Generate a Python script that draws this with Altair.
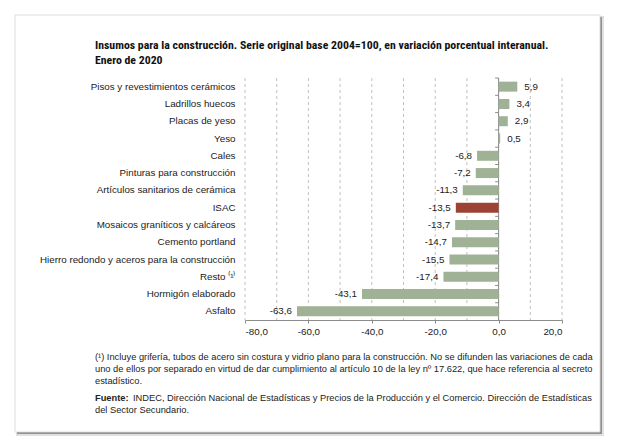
import altair as alt
import pandas as pd

categories = [
    "Pisos y revestimientos cerámicos",
    "Ladrillos huecos",
    "Placas de yeso",
    "Yeso",
    "Cales",
    "Pinturas para construcción",
    "Artículos sanitarios de cerámica",
    "ISAC",
    "Mosaicos graníticos y calcáreos",
    "Cemento portland",
    "Hierro redondo y aceros para la construcción",
    "Resto ⁽¹⁾",
    "Hormigón elaborado",
    "Asfalto",
]
values = [5.9, 3.4, 2.9, 0.5, -6.8, -7.2, -11.3, -13.5, -13.7, -14.7, -15.5, -17.4, -43.1, -63.6]
highlight = "ISAC"
x_ticks = [-80, -70, -60, -50, -40, -30, -20, -10, 0, 10, 20]

title_lines = [
    "Insumos para la construcción. Serie original base 2004=100, en variación porcentual interanual.",
    "Enero de 2020",
]
note_lines = [
    "(¹) Incluye grifería, tubos de acero sin costura y vidrio plano para la construcción. No se difunden las variaciones de cada",
    "uno de ellos por separado en virtud de dar cumplimiento al artículo 10 de la ley nº 17.622, que hace referencia al secreto",
    "estadístico.",
]
source_bold = "Fuente:"
source_lines = [
    "INDEC, Dirección Nacional de Estadísticas y Precios de la Producción y el Comercio. Dirección de Estadísticas",
    "del Sector Secundario.",
]

W, H = 317, 242
FONT = "Liberation Sans"
TFONT = "Liberation Sans Narrow, Roboto Condensed, Liberation Sans"
GREEN = "#9fb295"
RED = "#9c4333"
NOTE_FS = 9.3

df = pd.DataFrame({
    "cat": categories,
    "val": values,
    "lab": [f"{v:.1f}".replace(".", ",") for v in values],
    "col": [RED if c == highlight else GREEN for c in categories],
})

one = pd.DataFrame({"a": [0]})
grid_df = pd.DataFrame({"t": x_ticks})

xscale = alt.Scale(domain=[-80, 20], nice=False, zero=False)
yscale = alt.Scale(paddingInner=0.42, paddingOuter=0.21)

shadow2 = alt.Chart(one).mark_rect(fill="#000000", opacity=0.12).encode(
    x=alt.value(-229), x2=alt.value(359), y=alt.value(-62), y2=alt.value(358))
shadow1 = alt.Chart(one).mark_rect(fill="#000000", opacity=0.35).encode(
    x=alt.value(-228), x2=alt.value(357), y=alt.value(-61), y2=alt.value(356))
card = alt.Chart(one).mark_rect(fill="white", stroke="#d4d4d4", strokeWidth=0.8).encode(
    x=alt.value(-230), x2=alt.value(355), y=alt.value(-63), y2=alt.value(354))

grid = alt.Chart(grid_df).mark_rule(color="#b0b0b0", strokeDash=[3, 3], strokeWidth=0.8).encode(
    x=alt.X("t:Q", scale=xscale))

base = alt.Chart(df)

bars = base.mark_bar(size=10).encode(
    x=alt.X("val:Q", scale=xscale,
            axis=alt.Axis(values=x_ticks, title=None, grid=False, zindex=1,
                          labelExpr="replace(replace(format(datum.value, '.1f'), '.', ','), '\u2212', '-')",
                          labelFont=FONT, labelFontSize=9.8, labelColor="#222",
                          domainColor="#8c8c8c", tickColor="#8c8c8c", tickSize=3,
                          labelPadding=3)),
    y=alt.Y("cat:N", sort=categories, scale=yscale,
            axis=alt.Axis(title=None, domain=False, ticks=False, grid=False, zindex=1,
                          labelFont=FONT, labelFontSize=9.8, labelColor="#222",
                          labelPadding=10, labelLimit=300)),
    color=alt.Color("col:N", scale=None),
)

zero = alt.Chart(one).mark_rule(color="#8c8c8c", strokeWidth=1).encode(x=alt.datum(0, scale=xscale))
zticks = base.mark_rule(color="#8c8c8c", strokeWidth=1, yOffset=-8.6).encode(
    x=alt.datum(0), x2=alt.datum(-1.1),
    y=alt.Y("cat:N", sort=categories))

lab_pos = base.transform_filter("datum.val >= 0").mark_text(
    align="left", dx=7, font=FONT, fontSize=9.8, color="#222").encode(
    x="val:Q", y=alt.Y("cat:N", sort=categories), text="lab:N")
lab_neg = base.transform_filter("datum.val < 0").mark_text(
    align="right", dx=-5, font=FONT, fontSize=9.8, color="#222").encode(
    x="val:Q", y=alt.Y("cat:N", sort=categories), text="lab:N")

NX = -150
texts = []
for i, line in enumerate(title_lines):
    texts.append(alt.Chart(one).mark_text(align="left", baseline="middle", font=TFONT,
                                          fontWeight="bold", fontSize=11.8, color="#111").encode(
        x=alt.value(NX), y=alt.value(-33 + i * 15), text=alt.value(line)))
for i, line in enumerate(note_lines):
    texts.append(alt.Chart(one).mark_text(align="left", baseline="middle", font=FONT,
                                          fontSize=NOTE_FS, color="#222").encode(
        x=alt.value(NX), y=alt.value(279 + i * 12), text=alt.value(line)))
texts.append(alt.Chart(one).mark_text(align="left", baseline="middle", font=FONT, fontWeight="bold",
                                      fontSize=NOTE_FS, color="#222").encode(
    x=alt.value(NX), y=alt.value(320), text=alt.value(source_bold)))
texts.append(alt.Chart(one).mark_text(align="left", baseline="middle", font=FONT,
                                      fontSize=NOTE_FS, color="#222").encode(
    x=alt.value(NX + 38), y=alt.value(320), text=alt.value(source_lines[0])))
texts.append(alt.Chart(one).mark_text(align="left", baseline="middle", font=FONT,
                                      fontSize=NOTE_FS, color="#222").encode(
    x=alt.value(NX), y=alt.value(332), text=alt.value(source_lines[1])))

chart = alt.layer(shadow2, shadow1, card, grid, zero, zticks, bars, lab_pos, lab_neg, *texts).properties(
    width=W, height=H,
    autosize=alt.AutoSizeParams(type="none"),
    padding={"left": 237, "top": 70, "right": 60, "bottom": 117},
).configure_view(stroke=None).configure(background="white")

chart.save("out.html", embed_options={"renderer": "svg", "actions": False})
